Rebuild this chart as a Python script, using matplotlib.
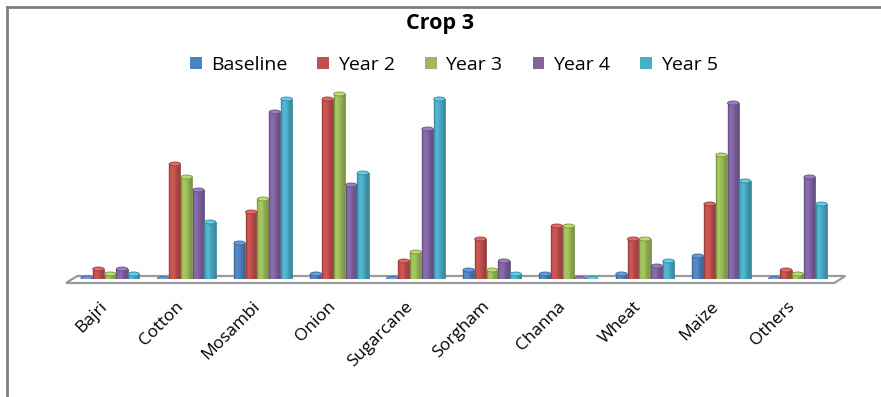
import matplotlib
matplotlib.use("Agg")
import matplotlib.pyplot as plt
import numpy as np
from matplotlib.colors import to_rgb
from matplotlib.patches import Ellipse, Polygon, Rectangle
from matplotlib.lines import Line2D

crops = ["Bajri", "Cotton", "Mosambi", "Onion", "Sugarcane",
         "Sorgham", "Channa", "Wheat", "Maize", "Others"]
series = ["Baseline", "Year 2", "Year 3", "Year 4", "Year 5"]

baseline = [1, 0.5, 36, 5, 0.5, 9, 5, 5, 23, 0.5]
year2 = [10, 115, 67, 180, 18, 40, 53, 40, 75, 9]
year3 = [5, 102, 80, 185, 27, 9, 53, 40, 124, 5]
year4 = [10, 89, 167, 94, 150, 18, 0.5, 13, 176, 102]
year5 = [5, 57, 180, 106, 180, 5, 0.5, 18, 98, 75]

colors = ["#4F81BD", "#C0504D", "#9BBB59", "#8064A2", "#4BACC6"]
values = [baseline, year2, year3, year4, year5]

fig = plt.figure(figsize=(8.81, 3.97), dpi=100)
ax = fig.add_axes([72 / 881, 1 - 279 / 397, 764 / 881, 200 / 397])

# horizontal shading profile that makes each bar look like a cylinder
nstrip = 10
t = (np.arange(nstrip) + 0.5) / nstrip
shade = 0.9 + 0.18 * np.exp(-((t - 0.35) / 0.3) ** 2) - 0.12 * t ** 3


def cylinder(x, h, w, color):
    rgb = np.array(to_rgb(color))
    sw = w / nstrip
    left = x - w / 2
    for k in range(nstrip):
        c = np.clip(rgb * shade[k], 0, 1)
        ax.add_patch(Rectangle((left + k * sw, 0), sw, h, facecolor=c,
                               edgecolor=c, lw=0.3, zorder=3))
    dark = rgb * 0.78
    ax.add_patch(Rectangle((left, 0), w, h, fill=False,
                           edgecolor=dark, lw=0.6, zorder=4))
    cap = np.clip(rgb * 1.1 + 0.06, 0, 1)
    ax.add_patch(Ellipse((x, h), w, 4, facecolor=cap, edgecolor=dark,
                         lw=0.6, zorder=5))


pitch = 0.154
width = 0.148
x = np.arange(len(crops))
for i, (vals, c) in enumerate(zip(values, colors)):
    for xi, v in zip(x, vals):
        cylinder(xi + (i - 2) * pitch, v, width, c)

# floor slab under the bars
floor = Polygon([(-0.58, -4), (9.48, -4), (9.62, 3), (-0.43, 3)],
                closed=True, facecolor="white", edgecolor="#9a9a9a",
                lw=1.6, zorder=1, clip_on=False)
ax.add_patch(floor)

ax.set_xlim(-0.5, 9.5)
ax.set_ylim(0, 200)
ax.set_xticks(x)
ax.set_xticklabels(crops, rotation=45, ha="right", fontsize=12.5,
                   family="Open Sans")
ax.tick_params(axis="x", length=0, pad=14)
ax.set_yticks([])
for s in ax.spines.values():
    s.set_visible(False)

fig.text(0.5, 1 - 23 / 397, "Crop 3", ha="center", va="center",
         fontsize=15.5, fontweight="bold", family="Open Sans")

handles = [Rectangle((0, 0), 1, 1, facecolor=c) for c in colors]
fig.legend(handles, series, loc="center", bbox_to_anchor=(454 / 881, 1 - 65 / 397),
           ncol=5, frameon=False, handlelength=0.6,
           handleheight=0.6, handletextpad=0.45, columnspacing=1.55,
           prop={"family": "Open Sans", "size": 14})

# outer frame lines
fig.add_artist(Line2D([6.5 / 881, 1], [1 - 6.5 / 397] * 2, color="#808080", lw=2))
fig.add_artist(Line2D([6.5 / 881] * 2, [0, 1 - 6.5 / 397], color="#808080", lw=2))

fig.savefig("out.png", dpi=100)
